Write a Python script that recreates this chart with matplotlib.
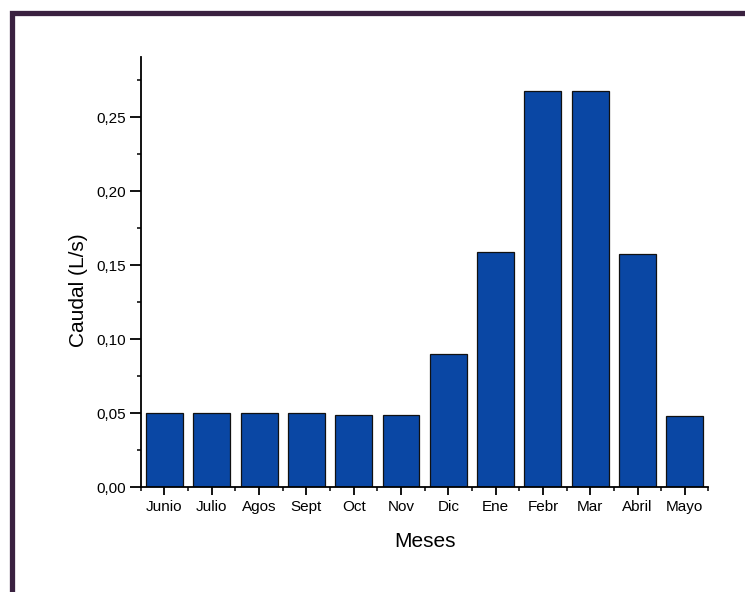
import matplotlib
matplotlib.use("Agg")
import matplotlib.pyplot as plt
from matplotlib.lines import Line2D
from matplotlib.ticker import FixedLocator, MultipleLocator, FuncFormatter

plt.rcParams['font.family'] = ['Liberation Sans', 'DejaVu Sans']

months = ["Junio", "Julio", "Agos", "Sept", "Oct", "Nov", "Dic", "Ene", "Febr", "Mar", "Abril", "Mayo"]
caudal = [0.050, 0.050, 0.050, 0.050, 0.049, 0.049, 0.090, 0.159, 0.268, 0.268, 0.158, 0.048]

fig = plt.figure(figsize=(7.45, 5.92), dpi=100)
ax = fig.add_axes([0.189, 0.177, 0.762, 0.727])

x = list(range(len(months)))
ax.bar(x, caudal, width=0.78, color="#0a47a4", edgecolor="#111111", linewidth=0.9)

ax.set_xlim(-0.5, len(months) - 0.5)
ax.set_ylim(0, 0.291)

ax.spines['top'].set_visible(False)
ax.spines['right'].set_visible(False)
for s in ('left', 'bottom'):
    ax.spines[s].set_linewidth(1.3)

ax.set_xticks(x)
ax.set_xticklabels(months)
ax.xaxis.set_minor_locator(FixedLocator([i - 0.5 for i in range(len(months) + 1)]))
ax.yaxis.set_major_locator(MultipleLocator(0.05))
ax.yaxis.set_minor_locator(MultipleLocator(0.025))
ax.yaxis.set_major_formatter(FuncFormatter(lambda v, p: f"{v:.2f}".replace('.', ',')))

ax.tick_params(axis='both', which='major', direction='out', width=1.3, labelsize=11)
ax.tick_params(axis='x', which='major', length=6, pad=3)
ax.tick_params(axis='y', which='major', length=8, pad=3)
ax.tick_params(axis='both', which='minor', direction='out', length=3, width=1.1)

ax.set_ylabel("Caudal (L/s)", fontsize=15)
ax.set_xlabel("Meses", fontsize=15)
ax.yaxis.set_label_coords(-0.093, 0.458)
ax.xaxis.set_label_coords(0.5, -0.103)

# scanned page frame
frame_color = "#3a2140"
fig.add_artist(Line2D([12 / 745, 12 / 745, 742 / 745], [0, 1 - 13 / 592, 1 - 13 / 592],
                      transform=fig.transFigure, color=frame_color, linewidth=3.8,
                      solid_joinstyle='miter'))

fig.savefig("out.png", dpi=100)
